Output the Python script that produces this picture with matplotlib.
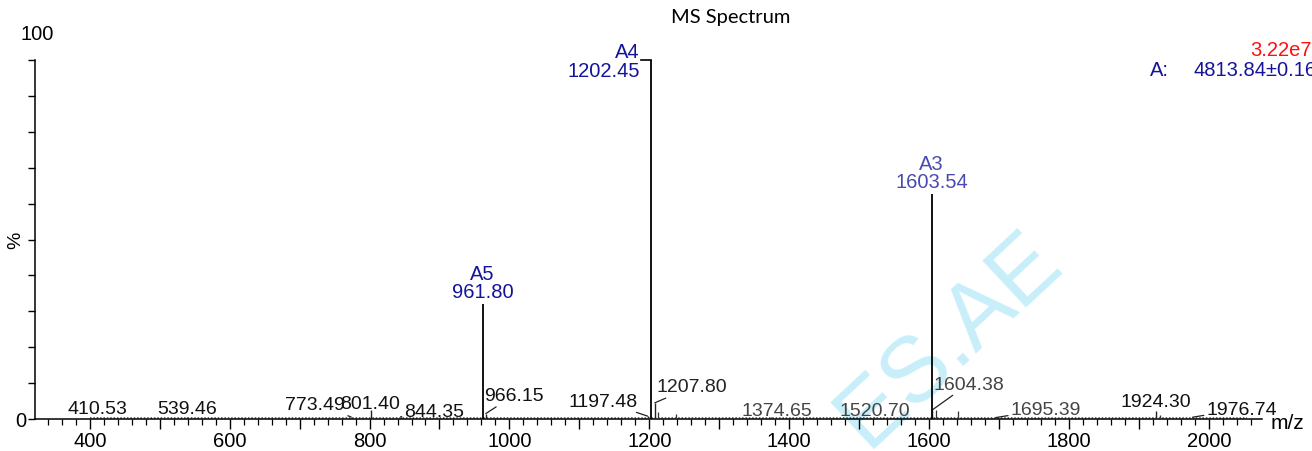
import matplotlib.pyplot as plt

# main charge-state peaks
main_mz = [961.80, 1202.45, 1603.54]
main_int = [32.0, 100.0, 62.7]
main_names = ['A5', 'A4', 'A3']

# small labelled peaks
small_mz = [410.53, 539.46, 773.49, 801.40, 844.35, 966.15, 1197.48, 1207.80,
            1374.65, 1520.70, 1604.38, 1695.39, 1924.30, 1976.74]
small_int = [0.6, 0.6, 0.6, 2.5, 0.6, 1.5, 0.8, 4.5, 0.6, 0.6, 2.5, 0.4, 2.2, 0.5]

# a few visible unlabelled minor peaks
minor_mz = [1212.0, 1238.0, 1610.0, 1641.0, 1930.0]
minor_int = [2.0, 1.5, 2.5, 2.3, 1.0]

x_ticks = [400, 600, 800, 1000, 1200, 1400, 1600, 1800, 2000]

sans = ['Liberation Sans', 'DejaVu Sans']
plt.rcParams['font.family'] = sans

fig = plt.figure(figsize=(13.12, 4.52), dpi=100)
ax = fig.add_axes([35 / 1312, 32 / 452, 1227 / 1312, 359 / 452])
ax.patch.set_alpha(0)

# watermark
ax.text(0.745, 0.225, 'ES.AE', transform=ax.transAxes, rotation=43,
        fontsize=66, color='#c8eff9', ha='center', va='center',
        zorder=0, clip_on=False)

# baseline noise
ax.hlines(0.35, 400, 2055, color='#444444', lw=1.1, linestyles=(0, (1, 1.2)), zorder=2)

ax.vlines(minor_mz, 0, minor_int, color='#333333', lw=0.9, zorder=3)
ax.vlines(small_mz, 0, small_int, color='#222222', lw=1.0, zorder=3)
ax.vlines(main_mz, 0, main_int, color='black', lw=1.3, zorder=4)

# main peak labels
main_colors = ['#14149a', '#14149a', '#4a4ab0']
for mz, it, name, c in zip(main_mz, main_int, main_names, main_colors):
    if it >= 99:
        ax.plot([mz - 15, mz], [it, it], color='black', lw=1.2, clip_on=False)
        ax.annotate(name + '\n' + f'{mz:.2f}', (mz - 16, it), xytext=(0, -1),
                    textcoords='offset pixels', ha='right', va='center',
                    fontsize=14.5, color=c, linespacing=0.95, annotation_clip=False)
    else:
        ax.annotate(name + '\n' + f'{mz:.2f}', (mz, it), xytext=(0, 3),
                    textcoords='offset pixels', ha='center', va='bottom',
                    fontsize=14.5, color=c, linespacing=0.95)

# small peak labels: (dx, dy) offsets in pixels, alignment, leader, colour
small_style = {
    410.53: (0, 8, 'center', False, '#111111'),
    539.46: (0, 8, 'center', False, '#111111'),
    773.49: (-6, 12, 'right', True, '#111111'),
    801.40: (0, 7, 'center', False, '#111111'),
    844.35: (4, 5, 'left', True, '#111111'),
    966.15: (-2, 18, 'left', True, '#111111'),
    1197.48: (-10, 15, 'right', True, '#111111'),
    1207.80: (2, 16, 'left', True, '#222222'),
    1374.65: (5, 6, 'center', False, '#444444'),
    1520.70: (1, 6, 'center', False, '#444444'),
    1604.38: (1, 26, 'left', True, '#444444'),
    1695.39: (15, 8, 'left', True, '#444444'),
    1924.30: (0, 10, 'center', False, '#111111'),
    1976.74: (14, 8, 'left', True, '#111111'),
}
for mz, it in zip(small_mz, small_int):
    dx, dy, ha, leader, c = small_style[mz]
    props = dict(arrowstyle='-', color='#222222', lw=0.9, shrinkA=0, shrinkB=0) if leader else None
    ax.annotate(f'{mz:.2f}', (mz, it), xytext=(dx, dy), textcoords='offset pixels',
                ha=ha, va='center', fontsize=14, color=c, arrowprops=props)

ax.set_xlim(321.7, 2076)
ax.set_ylim(0, 100)
ax.spines['top'].set_visible(False)
ax.spines['right'].set_visible(False)
ax.spines['left'].set_linewidth(1.1)
ax.spines['bottom'].set_linewidth(1.1)

ax.set_xticks(range(400, 2001, 100))
ax.set_xticklabels([str(v) if v in x_ticks else '' for v in range(400, 2001, 100)])
ax.set_xticks(range(340, 2061, 20), minor=True)
ax.tick_params(axis='x', which='major', length=7, width=1, labelsize=14.5, pad=2)
ax.tick_params(axis='x', which='minor', length=4, width=0.9)

ax.set_yticks(range(0, 101, 10))
ax.set_yticklabels(['0'] + [''] * 10)
ax.tick_params(axis='y', length=5, width=1, labelsize=14.5, pad=1)

fig.text(37 / 1312, 1 - 35 / 452, '100', ha='center', va='center', fontsize=14.5)
fig.text(16 / 1312, 1 - 240 / 452, '%', ha='center', va='center', rotation=90, fontsize=14)
fig.text(1271 / 1312, 1 - 424 / 452, 'm/z', ha='left', va='center', fontsize=15)

fig.text(731 / 1312, 1 - 18 / 452, 'MS Spectrum', ha='center', va='center',
         fontsize=14.5, family=['Lato', 'DejaVu Sans'])
fig.text(1312 / 1312, 1 - 50 / 452, '3.22e7', ha='right', va='center',
         fontsize=14.5, color='#ff1010')
fig.text(1150 / 1312, 1 - 70 / 452, 'A:', ha='left', va='center',
         fontsize=14.5, color='#14149a')
fig.text(1193 / 1312, 1 - 70 / 452, '4813.84\u00b10.16', ha='left', va='center',
         fontsize=14.5, color='#14149a')

fig.savefig('out.png', dpi=100)
